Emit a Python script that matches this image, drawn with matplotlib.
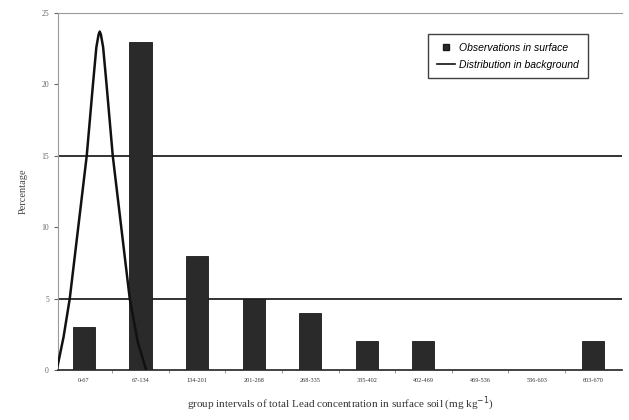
import matplotlib

matplotlib.use("Agg")
import matplotlib.pyplot as plt
from matplotlib.lines import Line2D
from matplotlib.patches import Patch

intervals = ["0-67", "67-134", "134-201", "201-268", "268-335",
             "335-402", "402-469", "469-536", "536-603", "603-670"]
observed_pct = [3, 23, 8, 5, 4, 2, 2, 0, 0, 2]

# background distribution curve, in category units along x
curve_x = [-0.48, -0.36, -0.25, -0.10, 0.05, 0.16, 0.22, 0.26, 0.28, 0.30,
           0.34, 0.40, 0.51, 0.66, 0.81, 0.95, 1.10]
curve_y = [0.0, 2.3, 5.0, 10.0, 15.0, 20.0, 22.6, 23.5, 23.7, 23.5,
           22.6, 20.0, 15.0, 10.0, 5.0, 2.0, 0.0]

ref_lines = [5, 15]

plt.rcParams["font.family"] = ["Liberation Serif", "DejaVu Serif"]

fig = plt.figure(figsize=(6.29, 4.20), dpi=100)
ax = fig.add_axes([0.092, 0.119, 0.897, 0.850])

x = list(range(len(intervals)))
ax.bar(x, observed_pct, width=0.39, color="#2a2a2a", edgecolor="#1a1a1a",
       linewidth=0.6, zorder=3)
ax.plot(curve_x, curve_y, color="#111111", linewidth=1.8, zorder=4)
for level in ref_lines:
    ax.axhline(level, color="#111111", linewidth=1.2, zorder=2)

ax.set_xlim(-0.46, 9.51)
ax.set_ylim(0, 25)
ax.set_yticks([0, 5, 10, 15, 20, 25])
ax.set_xticks(x)
ax.set_xticklabels(intervals, fontsize=4.5, color="#333333")
ax.tick_params(axis="y", labelsize=5.5, colors="#666666", length=3)
ax.tick_params(axis="x", length=0, pad=6)
ax.set_xticks([i + 0.5 for i in x[:-1]], minor=True)
ax.tick_params(axis="x", which="minor", length=2, color="#888888")

for side in ("left", "top", "right"):
    ax.spines[side].set_color("#9a9a9a")
ax.spines["right"].set_visible(False)
ax.spines["bottom"].set_color("#222222")
ax.spines["bottom"].set_linewidth(1.2)

ax.set_ylabel("Percentage", fontsize=7.5, color="#444444", labelpad=10)
ax.set_xlabel("group intervals of total Lead concentration in surface soil (mg kg$^{-1}$)",
              fontsize=8, color="#333333", labelpad=8)

handles = [
    Line2D([0], [0], marker="s", color="none", markerfacecolor="#2a2a2a",
           markeredgecolor="#1a1a1a", markersize=5),
    Line2D([0], [0], color="#111111", linewidth=1.2),
]
leg = ax.legend(handles, ["Observations in surface", "Distribution in background"],
                loc="upper right", bbox_to_anchor=(0.948, 0.955),
                frameon=True, fancybox=False, handlelength=1.8,
                borderpad=0.8, labelspacing=0.7, handletextpad=0.4,
                prop={"family": ["Liberation Sans"], "style": "italic", "size": 7.5})
leg.get_frame().set_edgecolor("#111111")
leg.get_frame().set_linewidth(1.0)

fig.savefig("out.png", dpi=100)
